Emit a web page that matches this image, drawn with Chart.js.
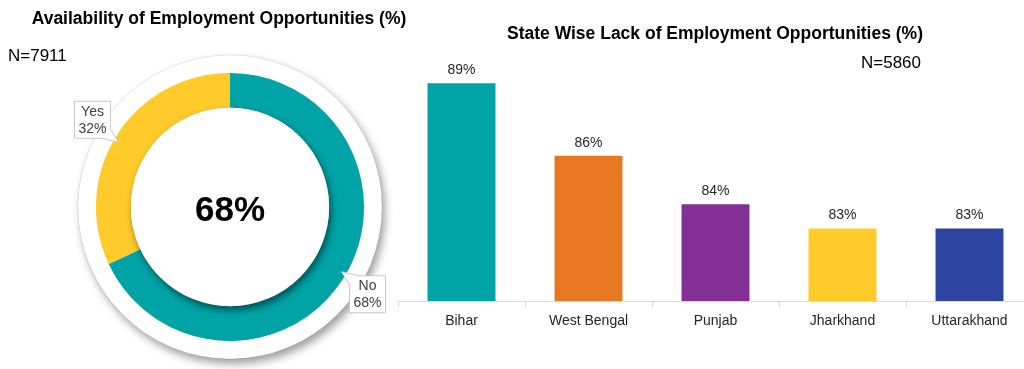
<!DOCTYPE html>
<html>
<head>
<meta charset="utf-8">
<script src="https://cdn.jsdelivr.net/npm/chart.js@4/dist/chart.umd.min.js"></script>
<style>
  html, body { margin: 0; padding: 0; width: 1024px; height: 369px; overflow: hidden; background: #fff;
    font-family: "Liberation Sans", Arial, sans-serif; }
  .wrap { position: absolute; }
  .title { position: absolute; font-weight: bold; font-size: 17.5px; color: #000; white-space: nowrap; line-height: 20px; transform: translateX(-50%); }
  .note { position: absolute; font-size: 17px; color: #000; white-space: nowrap; line-height: 20px; }
</style>
</head>
<body>
<div class="wrap" style="left:0;top:0;width:460px;height:369px;"><canvas id="donut"></canvas></div>
<div class="wrap" style="left:380px;top:0;width:660px;height:369px;"><canvas id="bars"></canvas></div>
<div class="title" style="left:219px;top:8px;">Availability of Employment Opportunities (%)</div>
<div class="note" style="left:8px;top:46px;">N=7911</div>
<div class="title" style="left:715px;top:23px;">State Wise Lack of Employment Opportunities (%)</div>
<div class="note" style="left:861px;top:53px;">N=5860</div>

<script>
// Availability of employment opportunities (share of respondents)
const availLabels = ['No', 'Yes'];
const availValues = [68, 32];
const availColors = ['#00A3A6', '#FFCB2B'];

// State-wise lack of employment opportunities
const states = ['Bihar', 'West Bengal', 'Punjab', 'Jharkhand', 'Uttarakhand'];
const lackValues = [89, 86, 84, 83, 83];
const stateColors = ['#00A3A6', '#E87722', '#832F96', '#FFCB2B', '#2E45A0'];
const lackAxisMin = 80;
const lackAxisMax = 90;

const FONT = '"Liberation Sans", Arial, sans-serif';

// White plate behind the ring, white disc over the hole, centre figure and callouts
const donutDecor = {
  id: 'donutDecor',
  beforeDatasetsDraw(chart) {
    const arc = chart.getDatasetMeta(0).data[0];
    if (!arc) return;
    const { x, y, outerRadius } = arc.getProps(['x', 'y', 'outerRadius'], true);
    const ctx = chart.ctx;
    ctx.save();
    ctx.beginPath();
    ctx.arc(x, y, outerRadius + 18, 0, Math.PI * 2);
    ctx.shadowColor = 'rgba(0,0,0,0.38)';
    ctx.shadowBlur = 9;
    ctx.shadowOffsetX = 3;
    ctx.shadowOffsetY = 5;
    ctx.fillStyle = '#ffffff';
    ctx.fill();
    ctx.shadowColor = 'transparent';
    ctx.strokeStyle = 'rgba(0,0,0,0.08)';
    ctx.lineWidth = 1;
    ctx.stroke();
    ctx.restore();
  },
  afterDatasetsDraw(chart) {
    const meta = chart.getDatasetMeta(0);
    const first = meta.data[0];
    if (!first) return;
    const { x, y, innerRadius, outerRadius } = first.getProps(['x', 'y', 'innerRadius', 'outerRadius'], true);
    const ctx = chart.ctx;
    ctx.save();
    ctx.beginPath();
    ctx.arc(x, y, innerRadius, 0, Math.PI * 2);
    ctx.shadowColor = 'rgba(0,0,0,0.5)';
    ctx.shadowBlur = 7;
    ctx.shadowOffsetX = 2;
    ctx.shadowOffsetY = 4;
    ctx.fillStyle = '#ffffff';
    ctx.fill();
    ctx.restore();

    // centre figure
    ctx.save();
    ctx.fillStyle = '#000';
    ctx.font = 'bold 35px ' + FONT;
    ctx.textAlign = 'center';
    ctx.textBaseline = 'middle';
    ctx.fillText(availValues[0] + '%', x, y + 4);
    ctx.restore();

    // callouts
    const data = chart.data.datasets[0].data;
    meta.data.forEach((el, i) => {
      const p = el.getProps(['startAngle', 'endAngle'], true);
      const mid = (p.startAngle + p.endAngle) / 2;
      const r = outerRadius * 1.215;
      const cx = x + Math.cos(mid) * r;
      const cy = y + Math.sin(mid) * r;
      const lines = [chart.data.labels[i], data[i] + '%'];
      ctx.save();
      ctx.font = '14px ' + FONT;
      const w = Math.max(...lines.map(t => ctx.measureText(t).width)) + 8;
      const h = 37;
      const l = cx - w / 2, t = cy - h / 2, rt = l + w, b = t + h;
      const sx = Math.cos(mid) > 0 ? -1 : 1;   // horizontal direction towards ring
      const sy = Math.sin(mid) > 0 ? -1 : 1;   // vertical direction towards ring
      const tail = 8;
      ctx.beginPath();
      if (sx === 1 && sy === 1) {          // tail at bottom-right
        ctx.moveTo(l, t); ctx.lineTo(rt, t); ctx.lineTo(rt, b - 9);
        ctx.lineTo(rt + tail, b + tail - 4); ctx.lineTo(rt - 9, b); ctx.lineTo(l, b);
      } else if (sx === -1 && sy === -1) { // tail at top-left
        ctx.moveTo(l + 9, t); ctx.lineTo(rt, t); ctx.lineTo(rt, b); ctx.lineTo(l, b);
        ctx.lineTo(l, t + 9); ctx.lineTo(l - tail, t - tail + 4);
      } else if (sx === 1 && sy === -1) {  // tail at top-right
        ctx.moveTo(l, t); ctx.lineTo(rt - 9, t); ctx.lineTo(rt + tail, t - tail + 4);
        ctx.lineTo(rt, t + 9); ctx.lineTo(rt, b); ctx.lineTo(l, b);
      } else {                             // tail at bottom-left
        ctx.moveTo(l, t); ctx.lineTo(rt, t); ctx.lineTo(rt, b); ctx.lineTo(l + 9, b);
        ctx.lineTo(l - tail, b + tail - 4); ctx.lineTo(l, b - 9);
      }
      ctx.closePath();
      ctx.fillStyle = '#fff';
      ctx.fill();
      ctx.strokeStyle = '#c8c8c8';
      ctx.lineWidth = 1;
      ctx.stroke();
      ctx.fillStyle = '#404040';
      ctx.textAlign = 'center';
      ctx.textBaseline = 'middle';
      ctx.fillText(lines[0], cx, cy - 8);
      ctx.fillText(lines[1], cx, cy + 9);
      ctx.restore();
    });
  }
};

new Chart(document.getElementById('donut'), {
  type: 'doughnut',
  data: {
    labels: availLabels,
    datasets: [{ data: availValues, backgroundColor: availColors, borderWidth: 0 }]
  },
  options: {
    responsive: true,
    maintainAspectRatio: false,
    animation: false,
    cutout: '74%',
    layout: { padding: { left: 96, right: 96, top: 73, bottom: 28 } },
    plugins: { legend: { display: false }, tooltip: { enabled: false } }
  },
  plugins: [donutDecor]
});

// value labels above each bar
const barValueLabels = {
  id: 'barValueLabels',
  afterDatasetsDraw(chart) {
    const ctx = chart.ctx;
    const meta = chart.getDatasetMeta(0);
    const data = chart.data.datasets[0].data;
    ctx.save();
    ctx.font = '14px ' + FONT;
    ctx.fillStyle = '#262626';
    ctx.textAlign = 'center';
    ctx.textBaseline = 'middle';
    meta.data.forEach((el, i) => {
      ctx.fillText(data[i] + '%', el.x, el.y - 13);
    });
    ctx.restore();
  }
};

new Chart(document.getElementById('bars'), {
  type: 'bar',
  data: {
    labels: states,
    datasets: [{ data: lackValues, backgroundColor: stateColors, borderWidth: 0 }]
  },
  options: {
    responsive: true,
    maintainAspectRatio: false,
    animation: false,
    layout: { padding: { left: 18, right: 7, top: 59, bottom: 0 } },
    datasets: { bar: { categoryPercentage: 1, barPercentage: 0.535 } },
    plugins: { legend: { display: false }, tooltip: { enabled: false } },
    scales: {
      x: {
        grid: { offset: true, drawOnChartArea: false, drawTicks: true, tickLength: 6, color: '#d9d9d9' },
        border: { color: '#d9d9d9', width: 1 },
        ticks: { color: '#262626', font: { family: FONT, size: 14 }, padding: 6 },
        afterFit(scale) { scale.height = 68; }
      },
      y: { display: false, min: lackAxisMin, max: lackAxisMax }
    }
  },
  plugins: [barValueLabels]
});
</script>
</body>
</html>
